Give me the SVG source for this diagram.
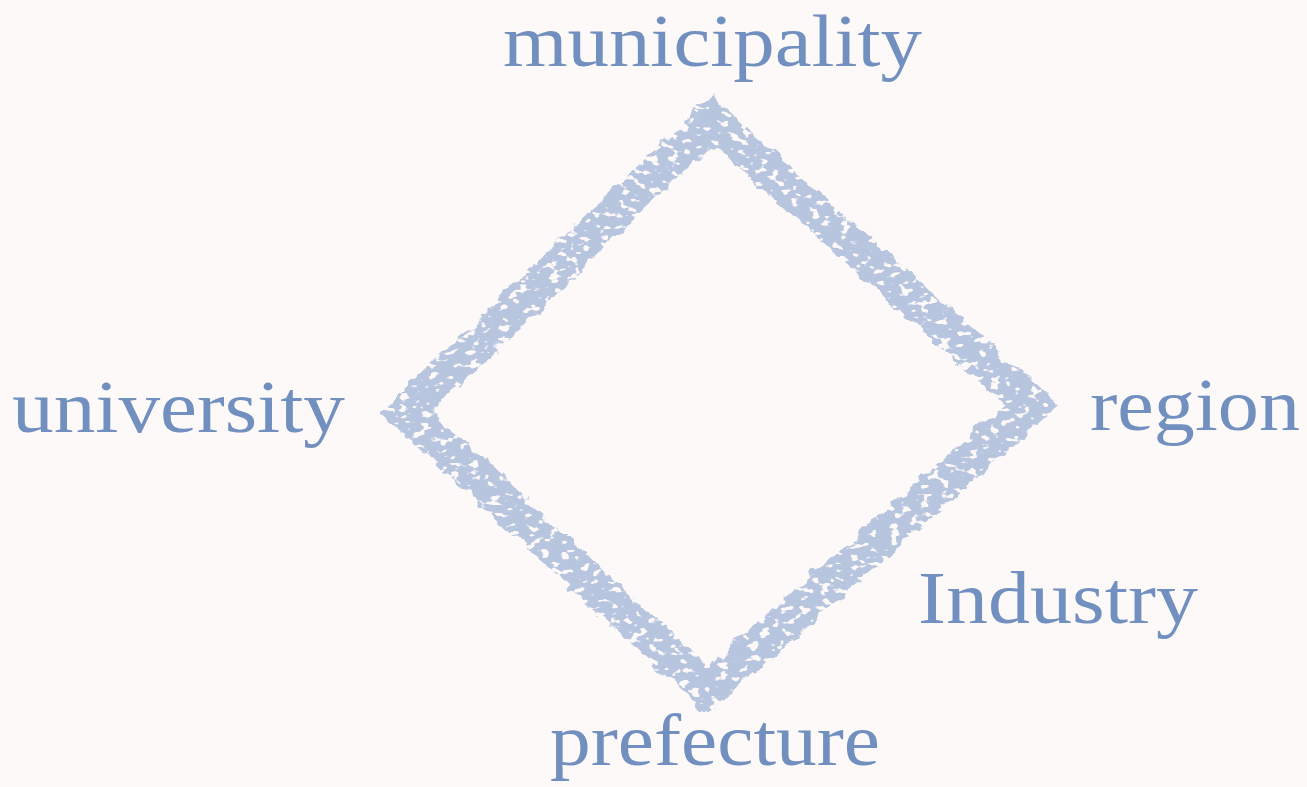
<svg xmlns="http://www.w3.org/2000/svg" width="1307" height="787" viewBox="0 0 1307 787">
  <defs>
    <style>
      .lbl { font-family: "Liberation Serif", "DejaVu Serif", serif; font-size: 74px; fill: #7290bf; }
      .edge { fill: none; stroke: #b8c5de; stroke-width: 36; stroke-linejoin: miter; stroke-miterlimit: 10; }
    </style>
    <filter id="rough" x="-10%" y="-10%" width="120%" height="120%">
      <feTurbulence type="fractalNoise" baseFrequency="0.06" numOctaves="3" seed="4" result="noise"/>
      <feDisplacementMap in="SourceGraphic" in2="noise" scale="14" xChannelSelector="R" yChannelSelector="G" result="disp"/>
      <feTurbulence type="fractalNoise" baseFrequency="0.1 0.16" numOctaves="2" seed="9" result="holes"/>
      <feColorMatrix in="holes" type="matrix" values="0 0 0 0 0  0 0 0 0 0  0 0 0 0 0  0 0 0 -14 9.2" result="holeMask"/>
      <feComposite in="disp" in2="holeMask" operator="in"/>
    </filter>
  </defs>
  <rect width="1307" height="787" fill="#fdf9f9"/>
  <g id="connectors" filter="url(#rough)">
    <polygon class="edge" points="712,120 1032,405 708,690 406,412"/>
  </g>
  <g id="node-municipality"><text class="lbl" x="503" y="66" textLength="419" lengthAdjust="spacingAndGlyphs">municipality</text></g>
  <g id="node-university"><text class="lbl" x="12" y="432" textLength="333" lengthAdjust="spacingAndGlyphs">university</text></g>
  <g id="node-region"><text class="lbl" x="1090" y="430" textLength="210" lengthAdjust="spacingAndGlyphs">region</text></g>
  <g id="node-industry"><text class="lbl" x="918" y="623" textLength="280" lengthAdjust="spacingAndGlyphs">Industry</text></g>
  <g id="node-prefecture"><text class="lbl" x="550" y="765" textLength="330" lengthAdjust="spacingAndGlyphs">prefecture</text></g>
</svg>
